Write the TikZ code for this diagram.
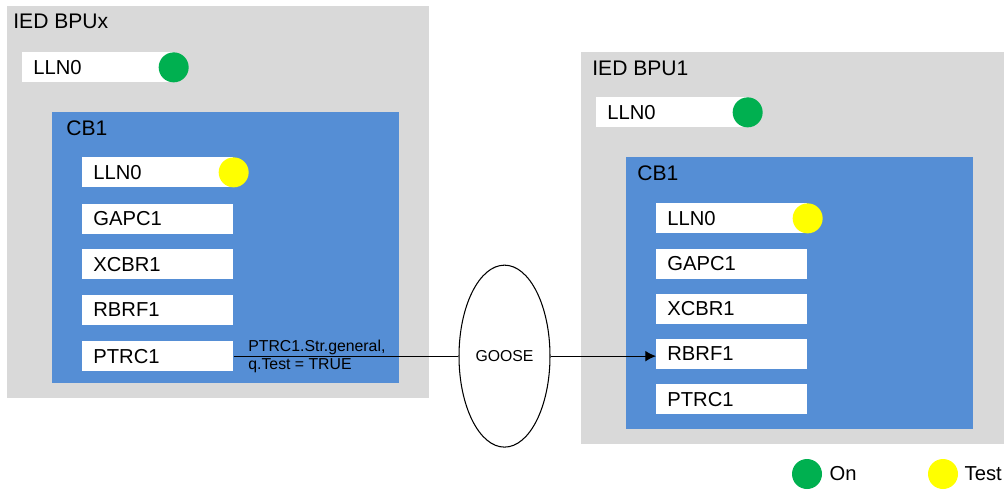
\documentclass[tikz,border=0pt]{standalone}
\usepackage{fontspec}
\setmainfont{Liberation Sans}
\usetikzlibrary{positioning,shapes.geometric,arrows.meta}

\definecolor{iedgray}{HTML}{D9D9D9}
\definecolor{cbblue}{HTML}{558ED5}
\definecolor{ongreen}{HTML}{00B050}
\definecolor{testyellow}{HTML}{FFFF00}

\tikzset{
	lnbox/.style={fill=white, anchor=north west, minimum height=0.6cm, text width=2.58cm,
		inner xsep=0.22cm, inner ysep=0pt, align=left, font=\fontsize{11.5}{13}\selectfont},
	title/.style={anchor=base west, inner sep=0pt, font=\fontsize{12}{14}\selectfont},
	lamp/.style={circle, minimum size=0.6cm, inner sep=0pt},
	keytext/.style={inner sep=0pt, font=\fontsize{11.5}{13}\selectfont},
}

\begin{document}
\begin{tikzpicture}[x=0.02cm, y=-0.02cm]
	\useasboundingbox (0,0) rectangle (1008,491);

	% Sending IED
	\fill[iedgray] (7,6) rectangle (429,398);
	\node[title] (iedx) at (13,28) {IED BPUx};
	\node[lnbox] (lnx) at (22,52) {LLN0};
	\node[lamp, fill=ongreen] (lampx) at (lnx.east) {};

	\fill[cbblue] (52,112) rectangle (399,383);
	\node[title] (cbx) at (66,135) {CB1};
	\node[lnbox] (lncbx) at (82,157) {LLN0};
	\node[lamp, fill=testyellow] (lampcbx) at (lncbx.east) {};
	\node[lnbox, below=0.31cm of lncbx] (gapcx) {GAPC1};
	\node[lnbox, below=0.3cm of gapcx] (xcbrx) {XCBR1};
	\node[lnbox, below=0.3cm of xcbrx] (rbrfx) {RBRF1};
	\node[lnbox, below=0.31cm of rbrfx] (ptrcx) {PTRC1};

	% Receiving IED
	\fill[iedgray] (581,52) rectangle (1004,444);
	\node[title] (ied1) at (592,75) {IED BPU1};
	\node[lnbox] (ln1) at (596,97) {LLN0};
	\node[lamp, fill=ongreen] (lamp1) at (ln1.east) {};

	\fill[cbblue] (626,157) rectangle (973,429);
	\node[title] (cb1) at (637,180) {CB1};
	\node[lnbox] (lncb1) at (656,203) {LLN0};
	\node[lamp, fill=testyellow] (lampcb1) at (lncb1.east) {};
	\node[lnbox, below=0.29cm of lncb1] (gapc1) {GAPC1};
	\node[lnbox, below=0.29cm of gapc1] (xcbr1) {XCBR1};
	\node[lnbox, below=0.29cm of xcbr1] (rbrf1) {RBRF1};
	\node[lnbox, below=0.29cm of rbrf1] (ptrc1) {PTRC1};

	% GOOSE message
	\coordinate (gmid) at (504.5,0);
	\node[draw, ellipse, line width=0.6pt, minimum width=1.82cm, minimum height=3.64cm, inner sep=0pt,
		font=\fontsize{9}{10}\selectfont] (goose) at (gmid |- ptrcx.east) {GOOSE};
	\draw[line width=0.6pt] (ptrcx.east) -- (goose.west);
	\draw[line width=0.6pt, -{Latex[length=6pt,width=6pt]}] (goose.east) -- (goose.east -| rbrf1.west);
	\node[anchor=west, inner sep=0pt, align=left, font=\fontsize{9}{10.2}\selectfont] (sig) at (248,356)
		{PTRC1.Str.general,\\q.Test = TRUE};

	% Legend
	\node[lamp, fill=ongreen] (keyon) at (807,474) {};
	\node[keytext, right=0.14cm of keyon] (txton) {On};
	\node[lamp, fill=testyellow] (keytest) at (943,474) {};
	\node[keytext, right=0.12cm of keytest] (txttest) {Test};
\end{tikzpicture}
\end{document}
